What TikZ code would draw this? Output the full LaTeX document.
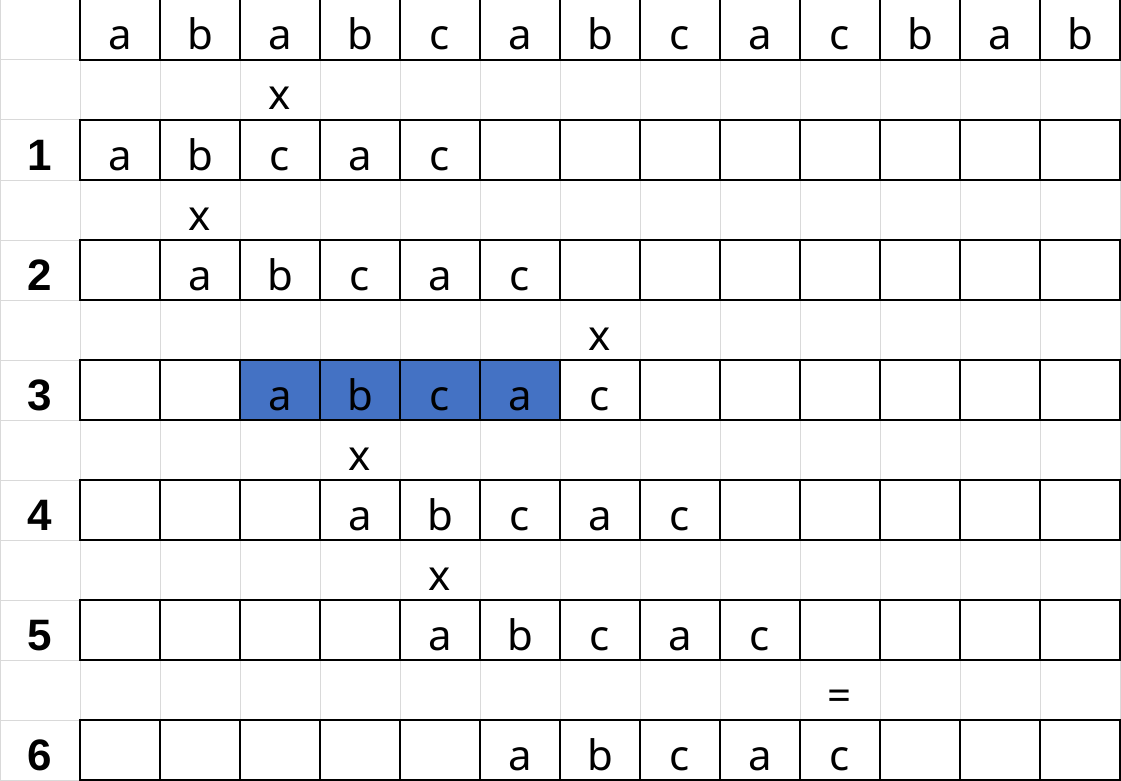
\documentclass[tikz,border=0pt]{standalone}
\usepackage{fontspec}
\setmainfont{Noto Sans}
\newfontfamily\labelfont{Liberation Sans}
\definecolor{gridgray}{RGB}{217,217,217}
\definecolor{hlblue}{RGB}{68,114,196}
\tikzset{
  letter/.style={anchor=base, inner sep=0pt, font=\fontsize{42}{48}\selectfont},
  rowlabel/.style={anchor=base, inner sep=0pt, font=\labelfont\fontsize{44}{50}\selectfont\bfseries},
  boxline/.style={black, line width=2pt}
}
\begin{document}
\begin{tikzpicture}[x=1pt,y=-1pt]
    \useasboundingbox (0,0) rectangle (1121,781);
    % light spreadsheet grid
    \foreach \c in {0,...,14}
        \draw [gridgray, line width=1pt] (80*\c,0) -- (80*\c,781);
    \foreach \r in {1,...,13}
        \draw [gridgray, line width=1pt] (0,60*\r) -- (1121,60*\r);
    % highlighted match in row 3
    \fill [hlblue] (240,360) rectangle (560,420);
    % boxed rows (top row has no upper edge)
    \draw [boxline] (80,0) -- (80,60) -- (1120,60) -- (1120,0);
    \foreach \c in {2,...,13}
        \draw [boxline] (80*\c,0) -- (80*\c,60);
    \foreach \r in {2,4,...,12} {
        \draw [boxline] (80,60*\r) rectangle (1120,60*\r+60);
        \foreach \c in {2,...,13}
            \draw [boxline] (80*\c,60*\r) -- (80*\c,60*\r+60);
    }
    % text
    \foreach \l [count=\c] in {a,b,a,b,c,a,b,c,a,c,b,a,b}
        \node [letter] (t\c) at (80*\c+40,50) {\l};
    \foreach \n/\r/\s in {1/2/0,2/4/1,3/6/2,4/8/3,5/10/4,6/12/5} {
        \node [rowlabel] (n\n) at (40,60*\r+50) {\n};
        \foreach \l [count=\c] in {a,b,c,a,c}
            \node [letter] (p\n c\c) at (80*\s+80*\c+40,60*\r+50) {\l};
    }
    \node [letter] (m1) at (280,110) {x};
    \node [letter] (m2) at (200,230) {x};
    \node [letter] (m3) at (600,350) {x};
    \node [letter] (m4) at (360,470) {x};
    \node [letter] (m5) at (440,590) {x};
    \node [letter] (m6) at (840,710) {=};
\end{tikzpicture}
\end{document}
